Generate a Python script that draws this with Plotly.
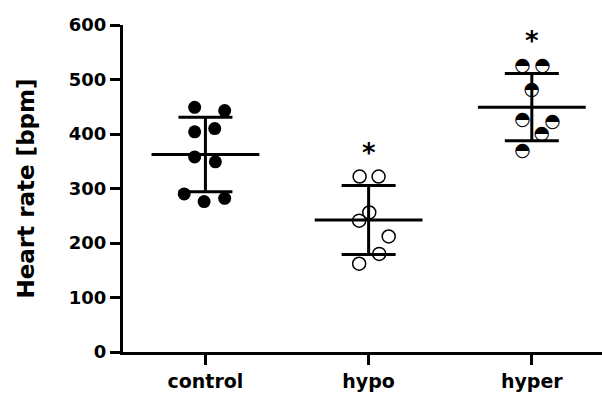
import numpy as np
import plotly.graph_objects as go

groups = ["control", "hypo", "hyper"]

control_vals = [449, 443, 404, 410, 358, 349, 290, 276, 282]
control_jit = [-0.066, 0.118, -0.066, 0.057, -0.066, 0.061, -0.13, -0.008, 0.118]

hypo_vals = [322, 322, 256, 241, 212, 180, 162]
hypo_jit = [-0.055, 0.061, 0.004, -0.058, 0.123, 0.065, -0.058]

hyper_vals = [525, 524, 481, 426, 421, 400, 368]
hyper_jit = [-0.057, 0.066, 0.0, -0.057, 0.127, 0.061, -0.057]

significant = [False, True, True]
y_ticks = [0, 100, 200, 300, 400, 500, 600]

FONT = "DejaVu Sans"
all_vals = [control_vals, hypo_vals, hyper_vals]
means = [float(np.mean(v)) for v in all_vals]
sds = [float(np.std(v, ddof=1)) for v in all_vals]

fig = go.Figure()

# mean line + SD error bars
fig.add_trace(go.Scatter(
    x=[0, 1, 2], y=means, mode="markers",
    marker=dict(symbol="line-ew", size=77, color="black",
                line=dict(color="black", width=3)),
    error_y=dict(type="data", array=sds, visible=True, color="black",
                 thickness=3, width=27),
    hoverinfo="skip", showlegend=False,
))

# control: filled circles
fig.add_trace(go.Scatter(
    x=[0 + j for j in control_jit], y=control_vals, mode="markers",
    marker=dict(symbol="circle", size=13, color="black",
                line=dict(color="black", width=0)),
    showlegend=False,
))
# hypo: open circles
fig.add_trace(go.Scatter(
    x=[1 + j for j in hypo_jit], y=hypo_vals, mode="markers",
    marker=dict(symbol="circle-open", size=13, color="black",
                line=dict(color="black", width=1.5)),
    showlegend=False,
))
# hyper: half-filled circles
fig.add_trace(go.Scatter(
    x=[2 + j for j in hyper_jit], y=hyper_vals, mode="text",
    text=["\u25D3"] * len(hyper_vals), textposition="middle center",
    textfont=dict(family=FONT, size=19, color="black"),
    showlegend=False,
))

for i, sig in enumerate(significant):
    if sig:
        fig.add_annotation(x=i, y=means[i] + sds[i] + 70, text="<b>*</b>",
                           showarrow=False, yshift=-6,
                           font=dict(family=FONT, size=26, color="black"))

fig.update_layout(
    width=602, height=394,
    margin=dict(l=123, r=0, t=25, b=42),
    plot_bgcolor="white", paper_bgcolor="white",
    font=dict(family=FONT, color="black"),
)
fig.update_xaxes(
    range=[-0.505, 2.43], tickvals=[0, 1, 2], ticktext=[f"<b>{g}</b>" for g in groups],
    showline=True, linewidth=3, linecolor="black", ticks="outside",
    ticklen=10, tickwidth=3, tickcolor="black", showgrid=False, zeroline=False,
    tickfont=dict(family=FONT, size=19, color="black"),
)
fig.update_yaxes(
    range=[0, 600], tickvals=y_ticks, ticktext=[f"<b>{t}</b>" for t in y_ticks],
    showline=True, linewidth=3, linecolor="black", ticks="outside",
    ticklen=10, tickwidth=3, tickcolor="black", showgrid=False, zeroline=False,
    tickfont=dict(family=FONT, size=18, color="black"),
    title=dict(text="<b>Heart rate [bpm]</b>", font=dict(family=FONT, size=23, color="black"),
               standoff=28),
)

fig.write_html("out.html", config={"displayModeBar": False},
               post_script="document.body.style.margin='0';document.body.style.overflow='hidden';")
